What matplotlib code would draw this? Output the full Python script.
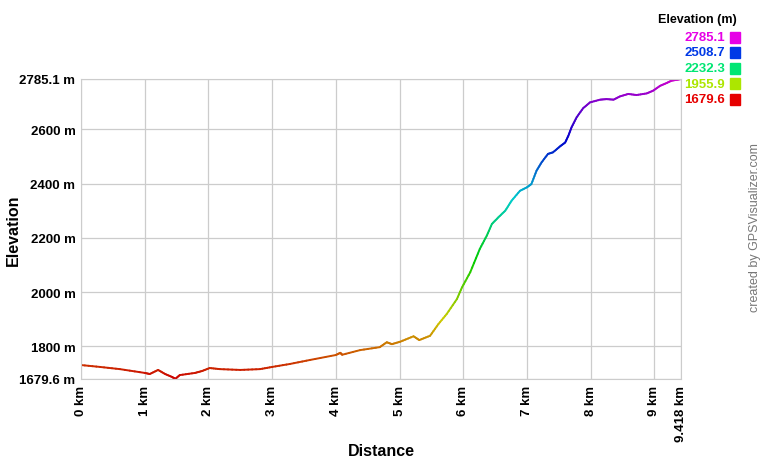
import numpy as np
import matplotlib
matplotlib.use("Agg")
import matplotlib.pyplot as plt
from matplotlib.collections import LineCollection
from matplotlib.colors import hsv_to_rgb

plt.rcParams['font.family'] = ['Liberation Sans', 'DejaVu Sans']

# profile (km, m)
dist_km = [0.00, 0.30, 0.61, 1.00, 1.08, 1.21, 1.32, 1.43, 1.48, 1.55, 1.79, 1.90,
           2.02, 2.18, 2.50, 2.81, 3.00, 3.28, 3.60, 4.00, 4.07, 4.10, 4.38, 4.69,
           4.80, 4.88, 5.01, 5.22, 5.31, 5.48, 5.61, 5.74, 5.90, 5.98, 6.11,
           6.26, 6.37, 6.45, 6.55, 6.66, 6.76, 6.89, 7.00, 7.07, 7.15, 7.23, 7.33,
           7.41, 7.52, 7.60, 7.65, 7.70, 7.78, 7.88, 7.99, 8.15, 8.25, 8.36, 8.46,
           8.59, 8.72, 8.88, 8.98, 9.09, 9.19, 9.27, 9.35, 9.418]
elev_m = [1731, 1724, 1716, 1702, 1698, 1713, 1698, 1687, 1680, 1694, 1702, 1709,
          1720, 1716, 1713, 1716, 1724, 1735, 1750, 1768, 1776, 1769, 1786, 1797,
          1815, 1808, 1817, 1837, 1823, 1839, 1882, 1919, 1974, 2017, 2073,
          2159, 2208, 2251, 2275, 2300, 2337, 2373, 2386, 2398, 2447, 2478, 2509,
          2515, 2537, 2551, 2576, 2607, 2644, 2677, 2699, 2709, 2711, 2709, 2721,
          2730, 2726, 2732, 2742, 2760, 2770, 2779, 2782, 2785.1]

y_min, y_max = 1679.6, 2785.1
x_max = 9.418
y_ticks = [1679.6, 1800, 2000, 2200, 2400, 2600, 2785.1]
y_labels = ['1679.6 m', '1800 m', '2000 m', '2200 m', '2400 m', '2600 m', '2785.1 m']
x_ticks = [0, 1, 2, 3, 4, 5, 6, 7, 8, 9, 9.418]
x_labels = ['0 km', '1 km', '2 km', '3 km', '4 km', '5 km', '6 km', '7 km', '8 km', '9 km', '9.418 km']
legend_vals = ['2785.1', '2508.7', '2232.3', '1955.9', '1679.6']


def elev_color(e, v=0.85):
    frac = (e - y_min) / (y_max - y_min)
    return hsv_to_rgb([frac * 300 / 360, 1.0, v])


fig = plt.figure(figsize=(7.6, 4.6), dpi=100)
ax = fig.add_axes([81 / 760, 1 - 380 / 460, 600 / 760, 300 / 460])

# densify so colour changes smoothly along the line
xd, yd = [], []
for i in range(len(dist_km) - 1):
    xs = np.linspace(dist_km[i], dist_km[i + 1], 6)[:-1]
    ys = np.linspace(elev_m[i], elev_m[i + 1], 6)[:-1]
    xd.extend(xs)
    yd.extend(ys)
xd.append(dist_km[-1])
yd.append(elev_m[-1])
pts = np.column_stack([xd, yd]).reshape(-1, 1, 2)
segs = np.concatenate([pts[:-1], pts[1:]], axis=1)
mid = (np.array(yd[:-1]) + np.array(yd[1:])) / 2
lc = LineCollection(segs, colors=[elev_color(e, 0.8) for e in mid], linewidth=1.4,
                    capstyle='round')
ax.add_collection(lc)

ax.set_xlim(0, x_max)
ax.set_ylim(y_min, y_max)
ax.set_xticks(x_ticks)
ax.set_xticklabels(x_labels, rotation=90, fontsize=9.5, fontweight='bold')
ax.set_yticks(y_ticks)
ax.set_yticklabels(y_labels, fontsize=9.5, fontweight='bold')
ax.tick_params(length=0, pad=4)
ax.grid(True, color='#cccccc', linewidth=0.9)
for s in ax.spines.values():
    s.set_color('#cccccc')

ax.set_xlabel('Distance', fontsize=11.5, fontweight='bold')
ax.set_ylabel('Elevation', fontsize=11.5, fontweight='bold', labelpad=4)
ax.xaxis.set_label_coords(0.5, -0.215)
ax.yaxis.set_label_coords(-0.1, 0.5)

# legend
fig.text(697 / 760, 1 - 20 / 460, 'Elevation (m)', fontsize=9, fontweight='bold',
         ha='center', va='center')
for i, lbl in enumerate(legend_vals):
    yy = 1 - (38 + i * 15.5) / 460
    col = elev_color(float(lbl), 0.9)
    fig.text(725 / 760, yy, lbl, fontsize=9.5, fontweight='bold', color=col,
             ha='right', va='center')
    fig.patches.append(plt.Rectangle((730 / 760, yy - 5.5 / 460), 10 / 760, 11 / 460,
                                     transform=fig.transFigure, color=col))

fig.text(755 / 760, 1 - 228 / 460, 'created by GPSVisualizer.com', fontsize=9,
         color='#777777', rotation=90, ha='center', va='center')

fig.savefig('out.png', dpi=100)
